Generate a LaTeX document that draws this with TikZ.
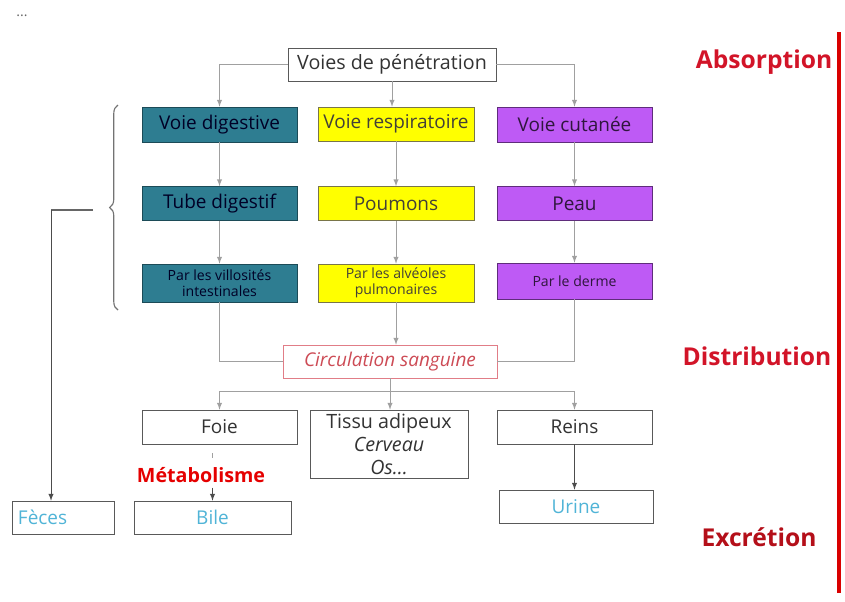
\documentclass[tikz,border=0pt]{standalone}
\usepackage{fontspec}
\setmainfont{Open Sans}
\usepackage{tikz}
\usetikzlibrary{shapes,arrows,decorations.pathreplacing}

\definecolor{digcol}{RGB}{46,125,145}
\definecolor{respcol}{RGB}{255,255,0}
\definecolor{cutcol}{RGB}{190,90,245}
\definecolor{linecol}{RGB}{160,160,160}
\definecolor{circcol}{RGB}{225,125,135}
\definecolor{circtext}{RGB}{205,75,85}
\definecolor{bluetext}{RGB}{80,180,215}
\definecolor{titlered}{RGB}{210,20,40}
\definecolor{darkred}{RGB}{180,15,25}

\tikzstyle{box}=[draw=black!65, fill=white, minimum width=3.875cm, minimum height=0.85cm, inner sep=1pt, font=\fontsize{13.5}{15}\selectfont, text=black!80]
\tikzstyle{small}=[font=\fontsize{10}{11}\selectfont, align=center]
\tikzstyle{digbox}=[box, fill=digcol, draw=digcol!60!black, text=black!85!blue]
\tikzstyle{respbox}=[box, fill=respcol, draw=black!60!yellow, text=black!85!yellow]
\tikzstyle{cutbox}=[box, fill=cutcol, draw=cutcol!50!black, text=cutcol!25!black]
\tikzstyle{conn}=[draw=linecol, line width=0.7pt]
\tikzstyle{arr}=[conn, -latex]
\tikzstyle{darr}=[draw=black!70, line width=0.7pt, -latex]
\tikzstyle{phase}=[font=\fontsize{17.5}{19}\selectfont\bfseries]

\begin{document}
\begin{tikzpicture}[x=0.025cm, y=-0.025cm]
	\useasboundingbox (0,0) rectangle (845,601);

	% absorption
	\node (dots) at (22,16) {\fontsize{10}{11}\selectfont\color{black!60}...};
	\node[box, minimum width=5.2cm, minimum height=0.825cm, font=\fontsize{14}{16}\selectfont] (pen) at (392,64.5) {Voies de pénétration};
	\node[digbox, minimum height=0.875cm] (dig) at (219.5,124.5) {Voie digestive};
	\node[respbox, minimum width=3.9cm] (resp) at (396,124) {Voie respiratoire};
	\node[cutbox, minimum height=0.875cm] (cut) at (574.5,124.5) {Voie cutanée};
	\node[digbox] (tube) at (219.5,203.5) {Tube digestif};
	\node[respbox, minimum width=3.9cm] (poum) at (396,203.5) {Poumons};
	\node[cutbox] (peau) at (574.5,203.5) {Peau};
	\node[digbox, small, minimum height=0.95cm] (vill) at (219.5,283) {Par les villosités\\intestinales};
	\node[respbox, small, minimum width=3.9cm, minimum height=0.95cm] (alv) at (396,283) {Par les alvéoles\\pulmonaires};
	\node[cutbox, small, minimum height=0.9cm] (derme) at (574.5,281) {Par le derme};

	\draw[arr] (pen.west) -| (dig.north);
	\draw[arr] (pen.east) -| (cut.north);
	\draw[arr] (pen.south) -- (pen.south |- resp.north);
	\draw[arr] (dig) -- (tube);
	\draw[arr] (tube) -- (vill);
	\draw[arr] (resp) -- (poum);
	\draw[arr] (poum) -- (alv);
	\draw[arr] (cut) -- (peau);
	\draw[arr] (peau) -- (derme);

	% distribution
	\node[box, draw=circcol, minimum width=5.35cm, minimum height=0.825cm, text=circtext, font=\fontsize{13.5}{15}\selectfont\itshape] (circ) at (390,361.5) {Circulation sanguine};
	\draw[conn] (vill.south) |- (circ.west);
	\draw[conn] (derme.south) |- (circ.east);
	\draw[arr] (alv.south) -- (alv.south |- circ.north);

	\node[box] (foie) at (219.5,427) {Foie};
	\node[box, minimum width=3.95cm, minimum height=1.7cm, align=center, font=\fontsize{14}{16.2}\selectfont] (tissu) at (389,444) {Tissu adipeux\\\textit{Cerveau}\\\textit{Os...}};
	\node[box] (reins) at (574.5,427) {Reins};
	\draw[arr] (circ.south) -- ++(0,13) -| (foie.north);
	\draw[arr] (circ.south) ++(0,13) -| (reins.north);
	\draw[arr] (circ.south) -- (circ.south |- tissu.north);

	% excretion
	\node[font=\fontsize{14}{15}\selectfont\bfseries, text=red!90!black] (meta) at (201,475) {Métabolisme};
	\node[box, minimum width=3.925cm, minimum height=0.825cm, text=bluetext] (bile) at (212.5,517.5) {Bile};
	\node[box, minimum width=2.55cm, minimum height=0.825cm, text=bluetext, text width=2.25cm, align=left] (feces) at (63,517.5) {Fèces};
	\node[box, minimum width=3.85cm, minimum height=0.825cm, text=bluetext] (urine) at (576,506.5) {Urine};

	\draw[conn] (bile.north |- foie.south) ++(0,9) -- ++(0,5);
	\draw[darr] (meta.south -| bile.north) -- (bile.north);
	\draw[darr] (reins.south) -- (reins.south |- urine.north);

	\draw[draw=black!55, line width=0.8pt, decorate, decoration={brace, amplitude=6}] (118,310) -- (118,105);
	\coordinate (tip) at (93,210);
	\coordinate (fec) at (51,210);
	\draw[draw=black!60, line width=0.8pt] (tip) -- (fec);
	\draw[darr] (fec) -- (fec |- feces.north);

	% phases
	\node[phase, text=titlered] (abs) at (764,62) {Absorption};
	\node[phase, text=titlered] (dist) at (757,356) {Distribution};
	\node[phase, text=darkred] (excr) at (759,537) {Excrétion};
	\coordinate (bartop) at (839,32);
	\coordinate (barbot) at (839,593);
	\draw[red!85!black, line width=2.2pt] (bartop) -- (barbot);
\end{tikzpicture}
\end{document}
